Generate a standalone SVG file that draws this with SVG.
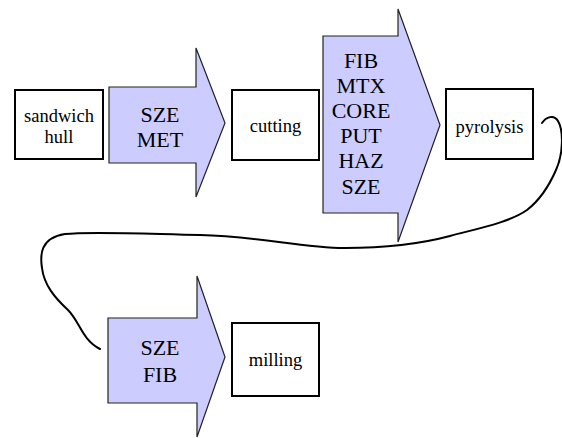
<svg xmlns="http://www.w3.org/2000/svg" width="562" height="438" viewBox="0 0 562 438">
<style>
.box{fill:#fff;stroke:#000;stroke-width:2}
.arrow{fill:#ccccff;stroke:#222;stroke-width:1.2;stroke-linejoin:miter}
text{font-family:'Liberation Serif','Times New Roman','DejaVu Serif',serif;fill:#000;text-anchor:middle}
.bt{font-size:18.5px}
.at{font-size:22px}
.conn{fill:none;stroke:#000;stroke-width:2;stroke-linecap:round;stroke-linejoin:round}
</style>
<rect width="562" height="438" fill="#fff"/>
<g id="connectors">
<path class="conn" d="M 542,123 C 546,117 554,114 558,121 C 564,131 563,155 556,170 C 549,186 540,200 527,210 C 510,222 480,228 450,236 C 420,244 380,248 345,248 C 300,248 260,236 200,235 C 150,234 90,231 65,234 C 40,238 40,255 42,268 C 44,285 55,298 68,310 C 80,322 82,340 100,349"/>
</g>
<g id="sandwich-hull">
<rect class="box" x="15" y="90" width="88" height="69"/>
<text class="bt" x="59" y="122" font-family="Liberation Serif, serif">sandwich</text>
<text class="bt" x="59" y="143" font-family="Liberation Serif, serif">hull</text>
</g>
<g id="arrow-sze-met">
<polygon class="arrow" points="109,87 196,87 196,48 225,123 196,197 196,163 109,163"/>
<text class="at" x="160" y="122" font-family="Liberation Serif, serif">SZE</text>
<text class="at" x="160" y="147" font-family="Liberation Serif, serif">MET</text>
</g>
<g id="cutting">
<rect class="box" x="232" y="90" width="87" height="70"/>
<text class="bt" x="275.5" y="132" font-family="Liberation Serif, serif">cutting</text>
</g>
<g id="arrow-fib">
<polygon class="arrow" points="323,36 398,36 398,9 440,125 398,242 398,213 323,213"/>
<text class="at" x="361" y="68" font-family="Liberation Serif, serif">FIB</text>
<text class="at" x="361" y="93" font-family="Liberation Serif, serif">MTX</text>
<text class="at" x="361" y="118" font-family="Liberation Serif, serif">CORE</text>
<text class="at" x="361" y="143" font-family="Liberation Serif, serif">PUT</text>
<text class="at" x="361" y="168" font-family="Liberation Serif, serif">HAZ</text>
<text class="at" x="361" y="194" font-family="Liberation Serif, serif">SZE</text>
</g>
<g id="pyrolysis">
<rect class="box" x="446" y="89" width="87" height="70"/>
<text class="bt" x="489.5" y="133" font-family="Liberation Serif, serif">pyrolysis</text>
</g>
<g id="arrow-sze-fib">
<polygon class="arrow" points="108,318 197,318 197,276 225,357 197,437 197,403 108,403"/>
<text class="at" x="160" y="355" font-family="Liberation Serif, serif">SZE</text>
<text class="at" x="160" y="382" font-family="Liberation Serif, serif">FIB</text>
</g>
<g id="milling">
<rect class="box" x="232" y="323" width="87" height="73"/>
<text class="bt" x="275.5" y="366" font-family="Liberation Serif, serif">milling</text>
</g>
</svg>
